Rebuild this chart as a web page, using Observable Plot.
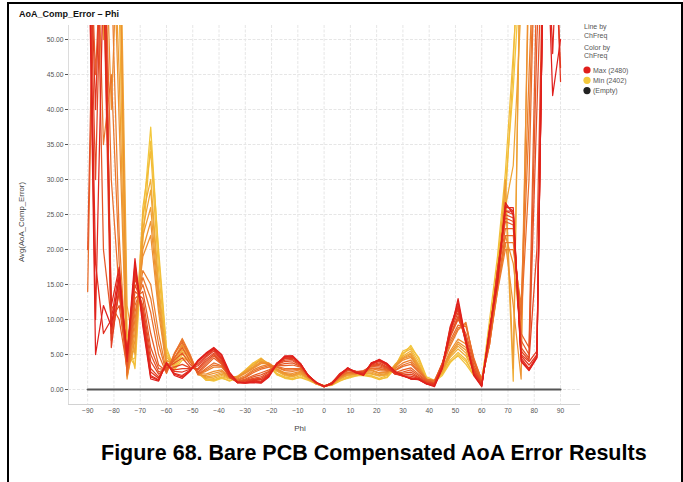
<!DOCTYPE html>
<html><head><meta charset="utf-8">
<script src="https://cdn.jsdelivr.net/npm/d3@7"></script>
<script src="https://cdn.jsdelivr.net/npm/@observablehq/plot@0.6"></script>
<style>
body{margin:0;background:#fff;}
#wrap{position:relative;width:683px;height:482px;overflow:hidden;font-family:"Liberation Sans",Arial,sans-serif;}
#chart{position:absolute;left:0;top:0;}
#overlay{position:absolute;left:0;top:0;}
#border{position:absolute;left:7px;top:2px;width:676px;height:500px;box-sizing:border-box;border:2px solid #000;border-bottom:none;}
</style></head>
<body>
<div id="wrap">
<div id="chart"></div>
<svg id="overlay" width="683" height="482" font-family="'Liberation Sans', Arial, sans-serif">
  <text x="19" y="17.3" font-weight="bold" font-size="9" fill="#111">AoA_Comp_Error – Phi</text>
  <text transform="translate(24.3,222) rotate(-90)" text-anchor="middle" font-size="7.8" fill="#444">Avg(AoA_Comp_Error)</text>
  <text x="300" y="431" text-anchor="middle" font-size="8" fill="#444">Phi</text>
  <g id="legend" font-size="7" fill="#555"></g>
  <text x="101" y="460" font-weight="bold" font-size="21.5" fill="#000">Figure 68. Bare PCB Compensated AoA Error Results</text>
</svg>
<div id="border"></div>
</div>
<script>
// X positions (Phi, degrees)
const phi = [-90,-87,-84,-81,-78,-75,-72,-69,-66,-63,
  -60,-57,-54,-51,-48,-45,-42,-39,-36,-33,
  -30,-27,-24,-21,-18,-15,-12,-9,-6,-3,
  0,3,6,9,12,15,18,21,24,27,
  30,33,36,39,42,45,48,51,54,57,
  60,63,66,69,72,75,78,81,84,87,90];

const xTicks = [-90,-80,-70,-60,-50,-40,-30,-20,-10,0,10,20,30,40,50,60,70,80,90];
const yTicks = [0,5,10,15,20,25,30,35,40,45,50];

// Avg(AoA_Comp_Error) per ChFreq (values above the axis top are clipped)
const s2402 = [75,75,75,75,68,5,3.5,24,37.5,19,
  5.5,3,4.6,4,2.3,1.4,1.2,1.6,1.3,1.6,
  2.6,3.6,4.3,3.6,2.2,1.6,1.4,1.8,1.4,0.9,
  0.5,0.7,1.3,1.6,1.9,2.2,2,1.5,1.7,3,
  5,6.3,4.4,1.6,1.1,2,3.8,5,4,2.2,
  1.2,9,18,29,43,62,75,75,75,75,75];
const s2406 = [75,75,75,75,70,8,3,21,35.5,20,
  6,2.8,4.2,4.3,2.6,1.3,1.3,1.7,1.2,1.7,
  2.7,3.8,4.5,3.4,2.1,1.7,1.5,1.7,1.3,0.8,
  0.5,0.6,1.2,1.7,2,2,1.8,1.4,1.8,3.2,
  5.5,6,4.6,1.8,1.3,2.2,4,4.8,3.6,2,
  1,10,19,31,48,66,75,75,75,75,75];
const s2408 = [75,75,75,75,65,4,4.5,26,34,17,
  5,3.2,5,4.2,2.5,1.5,1.4,1.8,1.5,1.8,
  2.8,3.8,4.1,3.4,2.3,1.8,1.6,2,1.5,0.9,
  0.4,0.8,1.4,1.8,2,2.1,1.9,1.6,2,3.4,
  5.2,5.8,4,1.4,1.2,2.3,4.2,5.3,4.3,2,
  1.4,8.5,17,27,46,75,75,75,75,75,75];
const s2414 = [75,75,75,75,55,3,6,25,30,15,
  4.6,3.5,5.4,4.4,2.4,1.7,1.6,2,1.6,1.9,
  2.7,3.5,4.2,3.5,2.6,2,1.8,2.2,1.6,0.8,
  0.5,0.7,1.5,2,2.1,2.3,2.2,1.9,2.1,3.5,
  4.8,5.5,3.6,1.3,1,2.5,4.6,5.8,4.8,2.5,
  1.2,8,16,28,1.2,70,75,75,75,75,75];
const s2418 = [75,75,75,75,75,12,5,23,28.5,14,
  4.2,3.7,5.7,4.6,2.3,1.6,1.8,2.2,1.7,1.8,
  2.6,3.3,4.4,3.7,2.7,2.1,1.9,2.3,1.5,0.9,
  0.6,0.7,1.5,2.1,2.2,2.4,2.3,2,2.2,3.6,
  4.6,5.2,3.4,1.2,1.1,2.6,4.8,6.2,5.2,2.6,
  1.1,7.8,15.5,26,32,55,75,75,75,75,75];
const s2422 = [75,75,75,75,45,2,8,22,26,13,
  4,4,6,4.6,2.2,1.8,2,2.4,1.8,1.8,
  2.5,3.2,4,3.6,2.8,2.2,2,2.4,1.6,0.8,
  0.4,0.8,1.6,2.1,2.2,2.5,2.5,2.1,2.3,3.4,
  4.5,5,3.3,1.4,1.1,2.8,5,6.5,5.6,2.8,
  1.3,7.5,15,30,3,70,75,75,75,75,75];
const s2426 = [75,75,50,75,38,1.8,7,20,24,12,
  3.5,4.3,6.3,4.7,2.1,2,2.3,2.6,1.7,1.8,
  2.4,3.1,3.9,3.8,2.9,2.3,2.1,2.5,1.6,0.8,
  0.4,0.8,1.6,2.2,2.3,2.5,2.7,2.3,2.4,3.2,
  4.4,4.8,3.1,1.4,1.2,2.9,5.2,6.8,6,3.2,
  1.4,7.2,14.5,21,12,1.5,65,75,75,75,75];
const s2428 = [75,75,75,40,70,1.5,9,19,22,11,
  3.2,4.5,6.5,4.8,2.3,2.2,2.6,2.8,1.8,1.7,
  2.3,3,3.7,3.7,3,2.4,2.3,2.6,1.7,0.9,
  0.5,0.7,1.7,2.3,2.2,2.6,2.8,2.4,2.5,3.3,
  4.2,4.6,3,1.5,1.2,3,5.5,7.2,6.5,3,
  1.6,7,14,22,18,8,60,75,75,75,75];
const s2436 = [75,60,75,60,22,2,10,17,15,8,
  2.6,5,7.3,5,2.2,2.6,3.2,3.2,1.9,1.5,
  2,2.8,3.3,3.6,3.2,2.7,2.6,2.8,1.8,0.9,
  0.4,0.8,1.8,2.4,2.3,2.6,3,2.7,2.6,3,
  3.8,4.2,2.8,1.5,1.3,3.4,6.2,8.5,9.6,4,
  1.5,6.5,14,20,20,12,45,75,75,75,75];
const s2440 = [75,75,35,45,18,2.2,11,16,13,6.5,
  2.4,5.2,7.1,4.8,2.2,2.8,3.5,3.3,1.9,1.4,
  1.8,2.6,3.1,3.4,3.2,2.8,2.8,2.9,1.9,0.9,
  0.5,0.8,1.8,2.4,2.4,2.6,3,2.9,2.7,2.8,
  3.5,3.9,2.6,1.4,1.2,3.6,6.6,8.8,9.3,4.3,
  1.4,6.5,14.5,21,21,11,38,75,75,75,75];
const s2444 = [14,75,70,30,14,2.5,12,15,11,5,
  2.3,5,6.8,4.6,2.1,3,3.8,3.4,2,1.3,
  1.7,2.4,2.9,3.2,3.3,3,3,3,2,1,
  0.5,0.9,1.9,2.5,2.4,2.6,3.1,3,2.8,2.7,
  3.3,3.6,2.5,1.4,1.2,3.8,7,9.2,9,4.5,
  1.3,6.5,15,22,22,10,30,75,75,75,75];
const s2450 = [75,45,70,12,10,3,13,14,8,3.5,
  2.6,4.6,6,4,2.3,3.4,4.5,3.6,1.8,1.2,
  1.5,2,2.4,2.8,3.4,3.4,3.5,3.2,2,1,
  0.4,1,2,2.7,2.5,2.7,3.3,3.2,2.9,2.4,
  2.8,3.1,2.2,1.3,1,3.8,7.5,10,8,4,
  1,7,16,23,23,8,6,60,75,75,75];
const s2454 = [75,75,20,10,12,3.5,14,13,6,3,
  2.8,4.2,5.2,3.6,2.5,3.7,4.8,3.7,1.8,1.1,
  1.4,1.8,2.1,2.6,3.5,3.7,3.8,3.3,2,1,
  0.5,0.9,2,2.8,2.6,2.6,3.4,3.4,3,2.3,
  2.5,2.8,2,1.2,0.9,3.7,7.6,10.2,7.5,3.5,
  0.9,7.2,16.5,24,23.5,7,5,50,75,75,75];
const s2458 = [20,75,75,8,14,4,15,12,5,2.5,
  3,3.8,4.5,3.2,2.8,4,5,3.8,1.7,1.1,
  1.3,1.6,1.8,2.5,3.6,4,4.1,3.4,2,0.9,
  0.5,0.9,2.1,2.8,2.6,2.5,3.5,3.6,3.1,2.2,
  2.3,2.5,1.8,1.1,0.9,3.6,7.8,10.5,7,3,
  0.8,7.5,17,24.5,24,6,4.5,40,75,75,75];
const s2462 = [75,30,75,7,14,4.5,16,11.5,4,2.2,
  3.2,3.2,3.6,3.1,3,4.3,5.2,4,1.8,1,
  1.2,1.5,1.6,2.3,3.6,4.2,4.3,3.5,1.9,1,
  0.4,1,2.1,2.9,2.6,2.4,3.5,3.8,3.2,2.2,
  2.1,2.2,1.7,1,0.8,3.5,8.2,11,6.8,2.8,
  0.8,7.8,17,25,24.5,5.5,4.2,20,75,75,75];
const s2466 = [75,75,60,6,15,5,16.5,11,3,1.8,
  3.5,2.8,3,3,3.4,4.6,5.5,4.2,1.9,1,
  1.1,1.4,1.4,2.2,3.7,4.4,4.5,3.6,1.9,1,
  0.4,1,2.2,3,2.6,2.3,3.6,4,3.4,2.2,
  2,1.9,1.6,1,0.8,3.4,8.5,11.5,6.5,2.5,
  0.7,8,17,25.5,25,5,4,5.5,75,75,46];
const s2470 = [75,40,75,8,16,4.8,17,10.5,2.5,1.6,
  3.6,2.6,2.5,2.9,3.7,4.8,5.7,4.4,2,1,
  1,1.3,1.2,2.1,3.7,4.5,4.6,3.6,1.9,1,
  0.5,0.9,2.2,3,2.5,2.2,3.7,4.1,3.5,2.3,
  1.9,1.7,1.5,0.9,0.7,3.3,8.8,11.8,6.6,2.3,
  0.6,8.2,16.5,25.5,25.5,4.8,3.5,5,75,75,44];
const s2474 = [75,18,8,10,17,4.5,17.5,10,2,1.4,
  3.8,2.3,2,2.8,4,5,5.8,4.6,2.2,1,
  1,1.2,1.1,2,3.8,4.6,4.7,3.7,1.9,1,
  0.5,0.9,2.3,3,2.5,2.2,3.8,4.2,3.6,2.4,
  1.9,1.6,1.4,0.8,0.6,3.2,9,12,6.8,2.2,
  0.5,8.5,16,26,26,4.5,3,4.8,75,75,75];
const s2476 = [75,10,60,12,17.5,4,18,9.5,1.8,1.3,
  3.8,2.2,1.8,2.7,4.1,5.1,5.9,4.8,2.3,1,
  0.9,1.1,1,1.9,3.7,4.7,4.8,3.7,2,1,
  0.4,0.8,2.1,3.1,2.4,2.1,3.8,4.2,3.7,2.5,
  2,1.5,1.4,0.8,0.5,3.1,8.5,12.5,7,2.1,
  0.5,8.6,15.5,26.3,25.5,4.2,2.8,4.6,75,48,75];
const s2480 = [75,5,12,9,16,5,18.7,9,1.5,1.2,
  3.9,2,1.6,2.6,4.2,5.2,6,5,2.5,1.1,
  0.9,1,0.9,1.8,3.6,4.8,4.8,3.7,2,1,
  0.4,0.8,2,3.1,2.4,2,3.7,4.3,3.7,2.6,
  2,1.5,1.5,0.8,0.4,3,8,13,7,2,
  0.4,8.7,15,26.7,25,4,2.7,4.5,75,42,50];

// "(Empty)" series
const emptyPhi = [-90, 90];
const emptyVals = [0, 0];

const freqs = [2402,2406,2408,2414,2418,2422,2426,2428,2436,2440,2444,2450,2454,2458,2462,2466,2470,2474,2476,2480];
const seriesVals = [s2402,s2406,s2408,s2414,s2418,s2422,s2426,s2428,s2436,s2440,s2444,s2450,s2454,s2458,s2462,s2466,s2470,s2474,s2476,s2480];
const legendItems = ["Max (2480)", "Min (2402)", "(Empty)"];

const rows = [];
freqs.forEach((f, k) => phi.forEach((p, i) => rows.push({phi: p, v: seriesVals[k][i], freq: f})));
const emptyRows = emptyPhi.map((p, i) => ({phi: p, v: emptyVals[i]}));

const minColor = "#f3c83c", maxColor = "#e01f1c";

const chart = Plot.plot({
  width: 683, height: 482,
  marginLeft: 68, marginRight: 103, marginTop: 25, marginBottom: 78,
  style: {fontSize: "6.7px", fontFamily: "'Liberation Sans', Arial, sans-serif", color: "#555", background: "transparent"},
  x: {domain: [-97.3, 97.6], ticks: xTicks, tickSize: 0, tickPadding: 4, label: null},
  y: {domain: [-2.14, 52], ticks: yTicks, tickFormat: d => d.toFixed(2), tickSize: 3, tickPadding: 2, label: null},
  color: {type: "linear", domain: [2402, 2480], range: [minColor, maxColor], interpolate: "rgb"},
  marks: [
    Plot.gridY(yTicks, {stroke: "#e6e6e6", strokeOpacity: 1, strokeDasharray: "3,1.5"}),
    Plot.gridX(xTicks, {stroke: "#e6e6e6", strokeOpacity: 1, strokeDasharray: "3,1.5"}),
    Plot.ruleX([-97.3], {stroke: "#dcdcdc"}),
    Plot.ruleY([-2.14], {stroke: "#d2d2d2"}),
    Plot.line(rows, {x: "phi", y: "v", z: "freq", stroke: "freq", strokeWidth: 1.25, clip: true}),
    Plot.line(emptyRows, {x: "phi", y: "v", stroke: "#555", strokeWidth: 2})
  ]
});
document.getElementById("chart").appendChild(chart);

// Legend
const lg = document.getElementById("legend");
const ns = "http://www.w3.org/2000/svg";
function addText(x, y, s) {
  const t = document.createElementNS(ns, "text");
  t.setAttribute("x", x); t.setAttribute("y", y); t.textContent = s;
  lg.appendChild(t);
}
addText(584, 28.7, "Line by");
addText(584, 37.5, "ChFreq");
addText(584, 49.5, "Color by");
addText(584, 58.3, "ChFreq");
const legendColors = [maxColor, minColor, "#222"];
legendItems.forEach((s, i) => {
  const cy = 70 + i * 10.3;
  const c = document.createElementNS(ns, "circle");
  c.setAttribute("cx", 587); c.setAttribute("cy", cy); c.setAttribute("r", 3.6);
  c.setAttribute("fill", legendColors[i]);
  lg.appendChild(c);
  addText(593, cy + 2.5, s);
});
</script>
</body></html>
